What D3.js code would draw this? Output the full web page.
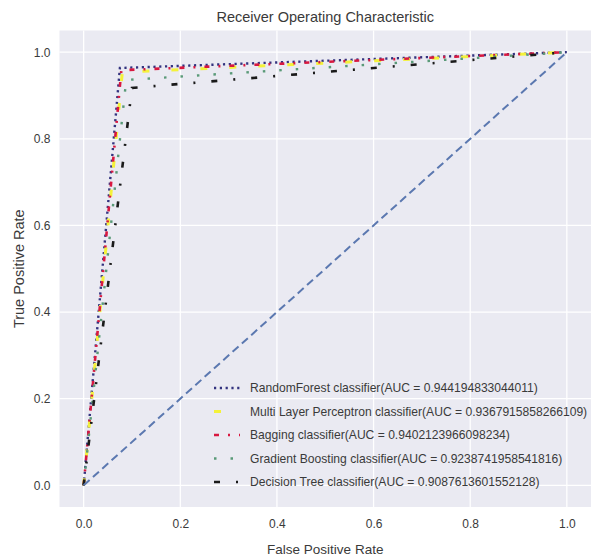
<!DOCTYPE html>
<html>
<head>
<meta charset="utf-8">
<script src="https://cdn.jsdelivr.net/npm/d3@7"></script>
<style>
  html, body { margin: 0; padding: 0; background: #ffffff; }
  svg { display: block; font-family: "Liberation Sans", Arial, sans-serif; }
</style>
</head>
<body>
<div id="chart"></div>
<script>
// ---- data ----
const models = ["RandomForest classifier", "Multi Layer Perceptron classifier", "Bagging classifier", "Gradient Boosting classifier", "Decision Tree classifier"];
const aucValues = ["0.944194833044011", "0.9367915858266109", "0.9402123966098234", "0.9238741958541816", "0.9087613601552128"];
const fprRF = [0, 0.075, 1];
const tprRF = [0, 0.9634, 1];
const fprMLP = [0, 0.080, 1];
const tprMLP = [0, 0.9536, 1];
const fprBag = [0, 0.078, 1];
const tprBag = [0, 0.9584, 1];
const fprGB = [0, 0.088, 1];
const tprGB = [0, 0.9358, 1];
const fprDT = [0, 0.100, 1];
const tprDT = [0, 0.9175, 1];
const chanceLine = [0, 1];
const tickValues = [0, 0.2, 0.4, 0.6, 0.8, 1.0];
const tickLabels = ["0.0", "0.2", "0.4", "0.6", "0.8", "1.0"];

const series = [
  { fpr: fprRF,  tpr: tprRF,  color: "#33337f", dash: "2.2,3.6", width: 2.4 },
  { fpr: fprMLP, tpr: tprMLP, color: "#f4f23a", dash: "7,22",    width: 3.0 },
  { fpr: fprBag, tpr: tprBag, color: "#d81840", dash: "5,9,2,9", width: 2.6 },
  { fpr: fprGB,  tpr: tprGB,  color: "#5a9a78", dash: "2.5,14",  width: 2.4 },
  { fpr: fprDT,  tpr: tprDT,  color: "#1a1a1a", dash: "6,16,2,16", width: 2.6 }
];

// ---- layout ----
const W = 600, H = 560;
const svg = d3.select("#chart").append("svg").attr("width", W).attr("height", H);

const x = d3.scaleLinear().domain([-0.05, 1.05]).range([59.5, 591]);
const y = d3.scaleLinear().domain([-0.05, 1.05]).range([507, 30.5]);

// background
svg.append("rect")
  .attr("x", x(-0.05)).attr("y", y(1.05))
  .attr("width", x(1.05) - x(-0.05)).attr("height", y(-0.05) - y(1.05))
  .attr("fill", "#eaeaf2");

// grid
const grid = svg.append("g");
grid.selectAll("line.vx").data(tickValues).enter().append("line")
  .attr("x1", d => x(d)).attr("x2", d => x(d))
  .attr("y1", y(1.05)).attr("y2", y(-0.05))
  .attr("stroke", "#ffffff").attr("stroke-width", 1.3);
grid.selectAll("line.hy").data(tickValues).enter().append("line")
  .attr("y1", d => y(d)).attr("y2", d => y(d))
  .attr("x1", x(-0.05)).attr("x2", x(1.05))
  .attr("stroke", "#ffffff").attr("stroke-width", 1.3);

// axes (labels only, like seaborn darkgrid)
const xAxis = d3.axisBottom(x).tickValues(tickValues).tickFormat((d, i) => tickLabels[i]).tickSize(0).tickPadding(12);
const yAxis = d3.axisLeft(y).tickValues(tickValues).tickFormat((d, i) => tickLabels[i]).tickSize(0).tickPadding(9);
const gx = svg.append("g").attr("transform", `translate(0,${y(-0.05)})`).call(xAxis);
const gy = svg.append("g").attr("transform", `translate(${x(-0.05)},0)`).call(yAxis);
[gx, gy].forEach(g => {
  g.select(".domain").remove();
  g.selectAll("text").attr("fill", "#3a3a3a").style("font-size", "12px");
});

// lines
const line = d3.line().x(d => x(d[0])).y(d => y(d[1]));
const plot = svg.append("g");
series.forEach(s => {
  const pts = s.fpr.map((f, i) => [f, s.tpr[i]]);
  plot.append("path").datum(pts)
    .attr("d", line)
    .attr("fill", "none")
    .attr("stroke", s.color)
    .attr("stroke-width", s.width)
    .attr("stroke-dasharray", s.dash);
});
// chance diagonal
plot.append("path").datum(chanceLine.map(v => [v, v]))
  .attr("d", line)
  .attr("fill", "none")
  .attr("stroke", "#5b78b0")
  .attr("stroke-width", 2)
  .attr("stroke-dasharray", "8,4.5");

// legend
const legY0 = 388, legDy = 23.5;
const leg = svg.append("g");
series.forEach((s, i) => {
  const yy = legY0 + i * legDy;
  leg.append("line")
    .attr("x1", 214).attr("x2", 240)
    .attr("y1", yy).attr("y2", yy)
    .attr("stroke", s.color)
    .attr("stroke-width", s.width)
    .attr("stroke-dasharray", s.dash);
  leg.append("text")
    .attr("x", 250).attr("y", yy)
    .attr("dy", "0.35em")
    .attr("fill", "#3a3a3a")
    .style("font-size", "12.1px")
    .text(`${models[i]}(AUC = ${aucValues[i]})`);
});

// titles
svg.append("text")
  .attr("x", (x(-0.05) + x(1.05)) / 2).attr("y", 22)
  .attr("text-anchor", "middle").attr("fill", "#3a3a3a")
  .style("font-size", "14.5px")
  .text("Receiver Operating Characteristic");
svg.append("text")
  .attr("x", (x(-0.05) + x(1.05)) / 2).attr("y", 554)
  .attr("text-anchor", "middle").attr("fill", "#3a3a3a")
  .style("font-size", "13.5px")
  .text("False Positive Rate");
svg.append("text")
  .attr("transform", `translate(24,${(y(-0.05) + y(1.05)) / 2}) rotate(-90)`)
  .attr("text-anchor", "middle").attr("fill", "#3a3a3a")
  .style("font-size", "14.5px")
  .text("True Positive Rate");
</script>
</body>
</html>
